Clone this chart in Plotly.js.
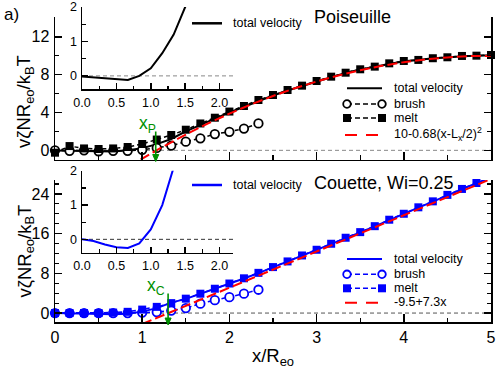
<!DOCTYPE html>
<html><head><meta charset="utf-8">
<script src="https://cdn.plot.ly/plotly-3.0.1.min.js"></script>
<style>html,body{margin:0;padding:0;background:#fff}#chart{width:498px;height:369px}</style>
</head><body><div id="chart"></div>
<script>
// ---------- data ----------
const xPos = [0, 0.167, 0.333, 0.5, 0.667, 0.833, 1.0, 1.167, 1.333, 1.5, 1.667, 1.833, 2.0, 2.167, 2.333,
  2.5, 2.667, 2.833, 3.0, 3.167, 3.333, 3.5, 3.667, 3.833, 4.0, 4.167, 4.333, 4.5, 4.667, 4.833, 5.0];
const brushX = [0, 0.167, 0.333, 0.5, 0.667, 0.833, 1.0, 1.167, 1.333, 1.5, 1.667, 1.833, 2.0, 2.167, 2.333];
const meltXCouette = [0, 0.167, 0.333, 0.5, 0.667, 0.833, 1.0, 1.167, 1.333, 1.5, 1.667, 1.833, 2.0, 2.167, 2.333,
  2.5, 2.667, 2.833, 3.0, 3.167, 3.333, 3.5, 3.667, 3.833, 4.0, 4.167, 4.333, 4.5, 4.667, 4.833];

// Poiseuille
const poisTotal = [-0.02, -0.045, -0.07, -0.095, -0.12, 0.0, 0.22, 0.66, 1.2, 2.0, 2.7, 3.35, 4.0, 4.62, 5.25,
  5.8, 6.33, 6.8, 7.3, 7.77, 8.19, 8.55, 8.84, 9.18, 9.43, 9.55, 9.73, 9.83, 9.96, 10.0, 10.06];
const poisBrush = [0, -0.05, 0, -0.1, -0.05, -0.05, 0.05, 0.25, 0.5, 0.92, 1.27, 1.72, 1.96, 2.3, 2.85];
const poisMelt = [-0.25, 0.45, 0.2, 0.14, 0.2, 0.35, 0.67, 1.14, 1.62, 2.18, 2.84, 3.45, 4.1, 4.69, 5.32,
  5.85, 6.38, 6.84, 7.33, 7.79, 8.21, 8.57, 8.85, 9.2, 9.45, 9.56, 9.74, 9.84, 9.98, 10.01, 10.08];
const poisFitX = [0.98, 1.25, 1.5, 1.75, 2.0, 2.25, 2.5, 2.75, 3.0, 3.25, 3.5, 3.75, 4.0, 4.25, 4.5, 4.75, 5.0];
const poisFitY = [-0.99, 0.44, 1.67, 2.82, 3.88, 4.86, 5.75, 6.56, 7.28, 7.92, 8.47, 8.94, 9.32, 9.62, 9.83, 9.96, 10.0];

// Couette
const couTotal = [0, -0.05, -0.15, -0.23, -0.25, -0.12, 0.29, 1.0, 2.1, 2.85, 3.85, 4.85, 5.9, 6.95, 8.05,
  9.2, 10.35, 11.55, 12.7, 13.9, 15.1, 16.25, 17.45, 18.75, 19.95, 21.25, 22.45, 23.75, 24.95, 26.15, 27.35];
const couBrush = [0, 0, 0, 0, 0, 0, 0.1, 0.2, 0.5, 1.0, 1.9, 2.6, 3.2, 3.9, 4.7];
const couMelt = [0, 0, 0, 0, 0.1, 0.25, 0.7, 1.25, 2.0, 2.9, 3.9, 4.9, 5.95, 7.0, 8.1,
  9.26, 10.4, 11.6, 12.75, 13.96, 15.17, 16.3, 17.5, 18.8, 20.0, 21.3, 22.5, 23.8, 25.0, 26.2];
const couFitX = [1.0, 5.0];
const couFitY = [-2.2, 27.0];

const xP = 1.155;
const xC = 1.297;

const legendLabels = ['total velocity', 'brush', 'melt'];
const poisFitLabel = '10-0.68(x-L<sub>x</sub>/2)<sup>2</sup>';
const couFitLabel = '-9.5+7.3x';
const poisTitle = 'Poiseuille';
const couTitle = 'Couette, Wi=0.25';
const yTitle = 'v\u03B6NR<sub>eo</sub>/k<sub>B</sub>T';
const xTitle = 'x/R<sub>eo</sub>';

// ---------- helpers ----------
const ML = 55, MR = 7, MT = 5, MB = 47, W = 498, H = 369;
const PW = W - ML - MR, PH = H - MT - MB;
const PX = p => (p - ML) / PW;
const PY = p => (H - MB - p) / PH;
const FONT = 'Liberation Sans, Arial, Helvetica, sans-serif';
const BLUE = '#0000ff', RED = '#ff0000', GREEN = '#009000';

const traces = [];
function panel(xa, ya, col, total, bx, brush, mx, melt, fx, fy) {
  traces.push({x: xPos, y: total, xaxis: xa, yaxis: ya, mode: 'lines', line: {color: col, width: 2}, cliponaxis: true});
  traces.push({x: bx, y: brush, xaxis: xa, yaxis: ya, mode: 'lines+markers', cliponaxis: false,
    line: {color: col, width: 1.5, dash: '4px,3px'},
    marker: {symbol: 'circle', size: 8.5, color: 'white', line: {color: col, width: 1.8}}});
  traces.push({x: mx, y: melt, xaxis: xa, yaxis: ya, mode: 'lines+markers', cliponaxis: false,
    line: {color: col, width: 1.5, dash: '4px,3px'},
    marker: {symbol: 'square', size: 8, color: col, line: {width: 0}}});
  traces.push({x: fx, y: fy, xaxis: xa, yaxis: ya, mode: 'lines', line: {color: RED, width: 2, dash: '10px,4px'}});
}
panel('x2', 'y2', 'black', poisTotal, brushX, poisBrush, xPos, poisMelt, poisFitX, poisFitY);
panel('x', 'y', BLUE, couTotal, brushX, couBrush, meltXCouette, couMelt, couFitX, couFitY);
traces.push({x: xPos, y: poisTotal, xaxis: 'x3', yaxis: 'y3', mode: 'lines', line: {color: 'black', width: 2}});
traces.push({x: xPos, y: couTotal, xaxis: 'x4', yaxis: 'y4', mode: 'lines', line: {color: BLUE, width: 2}});

const mainX = {range: [0, 5], dtick: 1, tick0: 0, ticks: 'inside', ticklen: 8, tickwidth: 1.5, tickcolor: 'black',
  minor: {ticks: 'inside', dtick: 0.5, tick0: 0, ticklen: 4.5, tickwidth: 1.2, tickcolor: 'black'},
  showline: true, linecolor: 'black', linewidth: 1.5, mirror: false, showgrid: false, zeroline: false,
  tickfont: {size: 16, family: FONT, color: 'black'}};
const mainY = {ticks: 'inside', ticklen: 7, tickwidth: 1.5, tickcolor: 'black', tick0: 0,
  showline: true, linecolor: 'black', linewidth: 1.5, mirror: 'ticks', showgrid: false, zeroline: false,
  tickfont: {size: 16, family: FONT, color: 'black'}, ticklabelstandoff: 1};
const insX = {range: [0, 2.2], dtick: 0.5, tick0: 0, tickformat: '.1f', ticks: 'inside', ticklen: 6, tickwidth: 1.5,
  tickcolor: 'black', minor: {ticks: 'inside', dtick: 0.25, tick0: 0, ticklen: 3.5, tickwidth: 1.2, tickcolor: 'black'},
  showline: true, linecolor: 'black', linewidth: 1.5, showgrid: false, zeroline: false,
  tickfont: {size: 12.5, family: FONT, color: 'black'}, ticklabelstandoff: 1};
const insY = {range: [-0.39, 2.003], dtick: 1, tick0: 0, ticks: 'inside', ticklen: 6, tickwidth: 1.5, tickcolor: 'black',
  minor: {ticks: 'inside', dtick: 0.5, tick0: 0, ticklen: 3.5, tickwidth: 1.2, tickcolor: 'black'},
  showline: true, linecolor: 'black', linewidth: 1.5, showgrid: false, zeroline: false,
  tickfont: {size: 12.5, family: FONT, color: 'black'}, ticklabelstandoff: 1};

const shapes = [];
const annotations = [];
function zeroLine(xd, ya, color) {
  shapes.push({type: 'line', xref: xd + ' domain', x0: 0, x1: 1, yref: ya, y0: 0, y1: 0, layer: 'below',
    line: {color: color, width: 1, dash: '4px,3px'}});
}
zeroLine('x2', 'y2', '#888888');
zeroLine('x', 'y', '#555555');
zeroLine('x3', 'y3', '#888888');
zeroLine('x4', 'y4', '#333333');

function txt(text, xp, yp, size, opts) {
  annotations.push(Object.assign({text: text, xref: 'paper', yref: 'paper', x: PX(xp), y: PY(yp),
    showarrow: false, xanchor: 'left', yanchor: 'middle', font: {size: size, family: FONT, color: 'black'}}, opts || {}));
}
function legend(ys, col, fitLabel) {
  const xa = 347, xb = 382, xt = 392;
  shapes.push({type: 'line', xref: 'paper', yref: 'paper', x0: PX(xa), x1: PX(xb), y0: PY(ys[0]), y1: PY(ys[0]),
    line: {color: col, width: 2}});
  shapes.push({type: 'line', xref: 'paper', yref: 'paper', x0: PX(xa), x1: PX(xb), y0: PY(ys[1]), y1: PY(ys[1]),
    line: {color: col, width: 1.5, dash: '5px,3px'}});
  [xa, xb].forEach(cx => shapes.push({type: 'circle', xref: 'paper', yref: 'paper',
    x0: PX(cx - 3.8), x1: PX(cx + 3.8), y0: PY(ys[1] + 3.8), y1: PY(ys[1] - 3.8),
    fillcolor: 'white', line: {color: col, width: 1.8}}));
  shapes.push({type: 'line', xref: 'paper', yref: 'paper', x0: PX(xa), x1: PX(xb), y0: PY(ys[2]), y1: PY(ys[2]),
    line: {color: col, width: 1.5, dash: '5px,3px'}});
  [xa, xb].forEach(cx => shapes.push({type: 'rect', xref: 'paper', yref: 'paper',
    x0: PX(cx - 4), x1: PX(cx + 4), y0: PY(ys[2] + 4), y1: PY(ys[2] - 4),
    fillcolor: col, line: {width: 0}}));
  shapes.push({type: 'line', xref: 'paper', yref: 'paper', x0: PX(xa - 2), x1: PX(xb + 2), y0: PY(ys[3]), y1: PY(ys[3]),
    line: {color: RED, width: 2, dash: '12px,9px'}});
  for (let i = 0; i < 3; i++) txt(legendLabels[i], xt, ys[i], 12.5);
  txt(fitLabel, xt, ys[3] - 1, 12.5);
}
legend([88.3, 104, 118, 135], 'black', poisFitLabel);
legend([259, 274.3, 288.3, 302.7], BLUE, couFitLabel);

// inset legends
shapes.push({type: 'line', xref: 'paper', yref: 'paper', x0: PX(192), x1: PX(222), y0: PY(23.3), y1: PY(23.3),
  line: {color: 'black', width: 2.5}});
txt(legendLabels[0], 231, 23.3, 12.5);
shapes.push({type: 'line', xref: 'paper', yref: 'paper', x0: PX(192), x1: PX(222), y0: PY(185), y1: PY(185),
  line: {color: BLUE, width: 2.5}});
txt(legendLabels[0], 231, 185, 12.5);

// titles / labels
txt('a)', 2, 14, 17);
txt(poisTitle, 312, 17, 18);
txt(couTitle, 312, 183, 18);
txt(yTitle, 25, 102, 18.5, {xanchor: 'center', textangle: -90});
txt(yTitle, 25, 251.5, 18.5, {xanchor: 'center', textangle: -90});
txt('x<sub>P</sub>', 137, 124, 17.5, {font: {size: 17.5, family: FONT, color: GREEN}});
txt('x<sub>C</sub>', 145, 286, 17.5, {font: {size: 17.5, family: FONT, color: GREEN}});

// green arrows (vertical line + arrow head), x in data units, y in pixels
function arrow(xa, xv, yTop, yTip) {
  const hw = 3 / 87;
  shapes.push({type: 'line', xref: xa, yref: 'paper', x0: xv, x1: xv, y0: PY(yTop), y1: PY(yTip - 5),
    line: {color: GREEN, width: 1.6}});
  shapes.push({type: 'path', xref: xa, yref: 'paper',
    path: 'M ' + (xv - hw) + ',' + PY(yTip - 7) + ' L ' + (xv + hw) + ',' + PY(yTip - 7) + ' L ' + xv + ',' + PY(yTip) + ' Z',
    fillcolor: GREEN, line: {color: GREEN, width: 1}});
}
arrow('x2', xP, 131.5, 161.5);
arrow('x', xC, 293.5, 325);

const layout = {
  width: W, height: H, margin: {l: ML, r: MR, t: MT, b: MB, pad: 0},
  paper_bgcolor: 'white', plot_bgcolor: 'rgba(0,0,0,0)', showlegend: false,
  font: {family: FONT, color: 'black'},
  xaxis: Object.assign({}, mainX, {domain: [0, 1], anchor: 'y',
    title: {text: xTitle, font: {size: 18.5, family: FONT, color: 'black'}, standoff: 4}}),
  yaxis: Object.assign({}, mainY, {domain: [0, PY(180)], anchor: 'x', range: [-1.8, 26.8], dtick: 8,
    minor: {ticks: 'inside', dtick: 2, tick0: 0, ticklen: 4, tickwidth: 1.2, tickcolor: 'black'}}),
  xaxis2: Object.assign({}, mainX, {domain: [0, 1], anchor: 'y2', showticklabels: false}),
  yaxis2: Object.assign({}, mainY, {domain: [PY(159.5), PY(17)], anchor: 'x2', range: [-0.97, 14.1], dtick: 4,
    minor: {ticks: 'inside', dtick: 2, tick0: 0, ticklen: 4, tickwidth: 1.2, tickcolor: 'black'}}),
  xaxis3: Object.assign({}, insX, {domain: [PX(82), PX(233.3)], anchor: 'y3'}),
  yaxis3: Object.assign({}, insY, {domain: [PY(89.3), PY(7)], anchor: 'x3'}),
  xaxis4: Object.assign({}, insX, {domain: [PX(82), PX(233.3)], anchor: 'y4'}),
  yaxis4: Object.assign({}, insY, {domain: [PY(252.7), PY(170.7)], anchor: 'x4'}),
  shapes: shapes, annotations: annotations
};
Plotly.newPlot('chart', traces, layout, {staticPlot: true, displayModeBar: false});
</script>
</body></html>
